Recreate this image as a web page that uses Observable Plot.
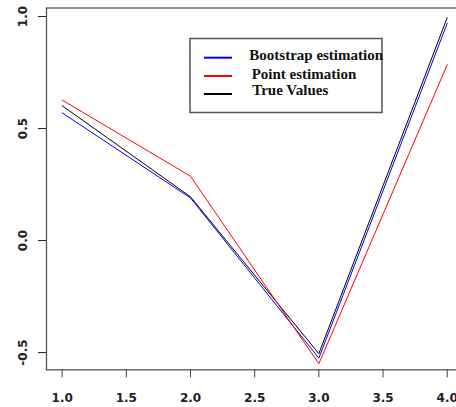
<!DOCTYPE html>
<html><head><meta charset="utf-8">
<script src="https://cdn.jsdelivr.net/npm/d3@7"></script>
<script src="https://cdn.jsdelivr.net/npm/@observablehq/plot@0.6"></script>
<style>
body{margin:0;background:#fff;}
#wrap{position:relative;width:456px;height:407px;overflow:hidden;background:#fff;}
#wrap svg{display:block;}
#legend{position:absolute;left:0;top:0;pointer-events:none;}
</style></head><body><div id="wrap"></div>
<script>
const xValues = [1, 2, 3, 4];
const bootstrap = [0.57, 0.19, -0.525, 0.97];
const pointEst = [0.627, 0.287, -0.55, 0.785];
const trueValues = [0.602, 0.195, -0.505, 0.995];
const seriesNames = ["Bootstrap estimation", "Point estimation", "True Values"];
const seriesColors = ["#0000ff", "#ff0000", "#000000"];
const xTicks = [1, 1.5, 2, 2.5, 3, 3.5, 4];
const yTicks = [-0.5, 0, 0.5, 1];

const seriesValues = [bootstrap, pointEst, trueValues];
const rows = [];
seriesNames.forEach((name, i) => xValues.forEach((x, j) => rows.push({series: name, x, y: seriesValues[i][j]})));
const drawOrder = [2, 0, 1];

const fmt = d => d.toFixed(1);
const chart = Plot.plot({
  width: 456, height: 407,
  marginLeft: 46, marginRight: -6, marginTop: 7.5, marginBottom: 37.7,
  x: {domain: [0.878, 4.119]},
  y: {domain: [-0.577, 1.038]},
  color: {domain: seriesNames, range: seriesColors},
  style: {fontFamily: "'DejaVu Sans', sans-serif", fontSize: "12px", color: "#222", background: "white"},
  marks: [
    ...drawOrder.map(i => Plot.line(rows.filter(r => r.series === seriesNames[i]), {x: "x", y: "y", stroke: "series", strokeWidth: 1})),
    Plot.frame({stroke: "#555", strokeWidth: 1.3}),
    Plot.axisX({ticks: xTicks, tickSize: 8, tickPadding: 16, tickFormat: fmt, label: null, fontWeight: "bold", stroke: "#444"}),
    Plot.axisY({ticks: yTicks, tickSize: 8, tickPadding: 12, tickRotate: -90, tickFormat: fmt, label: null, fontWeight: "bold"})
  ]
});
const wrap = document.getElementById("wrap");
wrap.appendChild(chart);

// legend overlay
const lg = d3.select(wrap).append("svg").attr("id", "legend").attr("width", 456).attr("height", 407);
lg.append("rect").attr("x", 190).attr("y", 38.5).attr("width", 192).attr("height", 74)
  .attr("fill", "white").attr("stroke", "#555").attr("stroke-width", 1.5);
const lineY = [57.7, 76, 94];
const textX = [249.3, 251.7, 252.3];
const textY = [59.5, 79.3, 95];
seriesNames.forEach((name, i) => {
  lg.append("line").attr("x1", 204).attr("x2", 232).attr("y1", lineY[i]).attr("y2", lineY[i])
    .attr("stroke", seriesColors[i]).attr("stroke-width", 2);
  lg.append("text").attr("x", textX[i]).attr("y", textY[i]).text(name)
    .attr("font-family", "'Liberation Serif', 'Times New Roman', serif").attr("font-weight", "bold")
    .attr("font-size", 15).attr("fill", "#111");
});
</script></body></html>
